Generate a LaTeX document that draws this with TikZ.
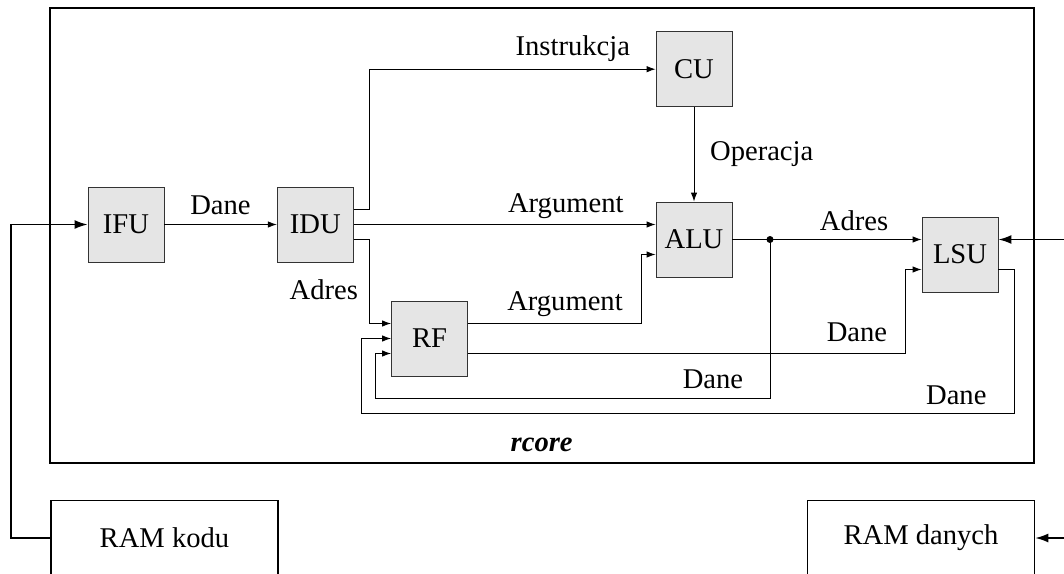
\documentclass[tikz,border=0pt]{standalone}
\usepackage{fontspec}
\setmainfont{Liberation Serif}
\usetikzlibrary{arrows.meta,calc}

\tikzset{
  unit/.style={draw=black!80, fill=gray!20, line width=0.9pt,
    minimum width=76pt, minimum height=75pt, inner sep=0pt},
  mem/.style={draw=black, line width=1.6pt,
    minimum width=227pt, minimum height=75pt, inner sep=0pt},
  frame/.style={draw=black, line width=1.6pt, inner sep=0pt},
  sig/.style={line width=0.9pt, -{Latex[length=9pt,width=6.5pt]}},
  bus/.style={line width=1.6pt, -{Latex[length=13pt,width=9pt]}},
  lbl/.style={anchor=base, inner sep=0pt},
}

\begin{document}
\begin{tikzpicture}[x=1pt, y=1pt,
  every node/.append style={font=\fontsize{28.6pt}{34pt}\selectfont}]
  \useasboundingbox (0,0) rectangle (1064,-573);
  \clip (0,0) rectangle (1064,-573);

  % core frame
  \node[frame, minimum width=984pt, minimum height=454.7pt] (rcore) at (542,-235.35) {};
  \node[lbl] (rcorelbl) at (541.7,-451.7) {\bfseries\itshape rcore};

  % functional units
  \node[unit] (IFU) at (126,-224.5) {IFU};
  \node[unit] (IDU) at (315.3,-224.5) {IDU};
  \node[unit] (CU)  at (694,-69.2) {CU};
  \node[unit] (ALU) at (694,-239.5) {ALU};
  \node[unit] (LSU) at (960,-254.5) {LSU};
  \node[unit] (RF)  at (429.5,-338.5) {RF};

  % memories
  \node[mem] (RAMk) at (164.5,-538) {RAM kodu};
  \node[mem] (RAMd) at (921,-538) {RAM danych};

  % off-picture sources
  \coordinate (extLSU) at (1100,-239.5);
  \coordinate (extRAM) at (1100,-538);

  % IFU -> IDU
  \draw[sig] (IFU.east) -- (IDU.west);
  \node[lbl] (l1) at (220.5,-214) {Dane};

  % IDU -> CU
  \draw[sig] ([yshift=15pt]IDU.east) -- ++(15.7pt,0) |- (CU.west);
  \node[lbl] (l2) at (572.8,-55.7) {Instrukcja};

  % IDU -> ALU
  \draw[sig] (IDU.east) -- (IDU.east -| ALU.west);
  \node[lbl] (l3) at (565.8,-212.7) {Argument};

  % IDU -> RF
  \draw[sig] ([yshift=-15pt]IDU.east) -- ++(15.7pt,0) |- ([yshift=15pt]RF.west);
  \node[lbl] (l4) at (323.8,-299) {Adres};

  % RF -> ALU
  \draw[sig] ([yshift=15pt]RF.east) -- ++(173pt,0) |- ([yshift=-15pt]ALU.west);
  \node[lbl] (l5) at (565,-310.7) {Argument};

  % CU -> ALU
  \draw[sig] (CU.south) -- (ALU.north);
  \node[lbl] (l6) at (761.7,-160) {Operacja};

  % ALU -> LSU with branch back to RF
  \draw[sig] (ALU.east) -- ([yshift=15pt]LSU.west);
  \node[lbl] (l7) at (854,-230) {Adres};
  \coordinate (split) at (770,-239.5);
  \fill (split) circle (3.5pt);
  \coordinate (r3) at ([yshift=-15pt]RF.west);
  \draw[sig] (split) -- ++(0,-159pt) -| ([xshift=-16pt]r3) -- (r3);
  \node[lbl] (l8) at (713,-388) {Dane};

  % RF -> LSU
  \coordinate (s2) at ([yshift=-15pt]LSU.west);
  \draw[sig] ([yshift=-15pt]RF.east) -| ([xshift=-16pt]s2) -- (s2);
  \node[lbl] (l9) at (857,-341.7) {Dane};

  % LSU -> RF
  \draw[sig] ([yshift=-15pt]LSU.east) -- ++(15.5pt,0) -- ++(0,-144pt)
    -| ([xshift=-29.5pt]RF.west) -- (RF.west);
  \node[lbl] (l10) at (956.3,-404) {Dane};

  % memory buses
  \draw[bus] (RAMk.west) -- ++(-39pt,0) |- (IFU.west);
  \draw[bus] (extLSU) -- ([yshift=15pt]LSU.east);
  \draw[bus] (extRAM) -- (RAMd.east);
\end{tikzpicture}
\end{document}
